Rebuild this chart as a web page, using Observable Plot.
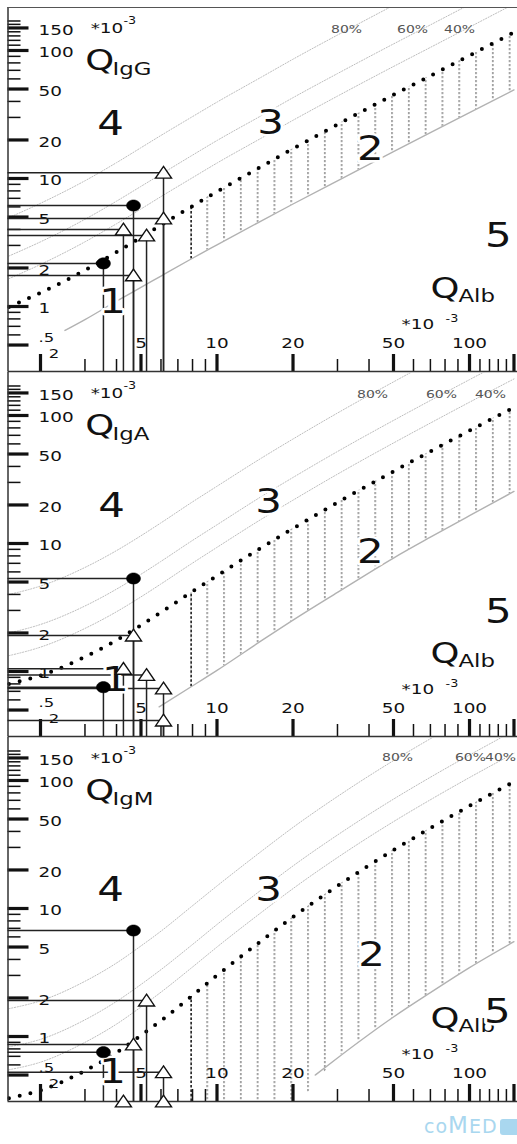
<!DOCTYPE html>
<html><head><meta charset="utf-8">
<script src="https://cdn.jsdelivr.net/npm/d3@7"></script>
<script src="https://cdn.jsdelivr.net/npm/@observablehq/plot@0.6"></script>
<style>
html,body{margin:0;padding:0;background:#fff;}
body{position:relative;width:517px;height:1144px;overflow:hidden;}
#chart svg{display:block;}
#logo{position:absolute;top:1112px;left:424px;font-family:"DejaVu Sans";color:#a9d7ef;font-size:19px;letter-spacing:1px;white-space:nowrap;}
</style></head><body>
<svg width="0" height="0" style="position:absolute"><defs>
<pattern id="hatch" patternUnits="userSpaceOnUse" x="189.5" y="0" width="16.8" height="4">
<rect x="0" y="0" width="1.8" height="2.2" fill="#a0a0a0"/></pattern>
</defs></svg>
<div id="chart"></div>
<div id="logo">co<span style="font-size:23px">M</span>ED<span style="display:inline-block;width:20px;height:16px;background:#a9d7ef;border-radius:3px;margin-left:2px;vertical-align:-2px"></span></div>
<script>
// ---------- data (values in units of 10^-3) ----------
const qAlbGrid = [1.5, 2, 3, 4, 5, 6, 7.9, 10, 15, 20, 30, 50, 70, 100, 150];

const igGUpper = [0.99, 1.28, 1.92, 2.66, 3.47, 4.33, 6.0, 7.9, 12.4, 17.1, 26.4, 45.0, 63.4, 91.4, 138.5];
const igG40 = [1.65, 2.13, 3.2, 4.43, 5.78, 7.22, 10.0, 13.2, 20.7, 28.5, 44.0, 75.0, 105.7, 152.3, 230.8];
const igG60 = [2.48, 3.2, 4.8, 6.65, 8.68, 10.8, 15.0, 19.8, 31.0, 42.8, 66.0, 112.5, 158.5, 228.5, 346];
const igG80 = [4.95, 6.4, 9.6, 13.3, 17.4, 21.7, 30.0, 39.5, 62.0, 85.5, 132, 225, 317, 457, 693];
const igGLowerX = [2.5, 3, 4, 5, 6, 7.9, 10, 15, 20, 30, 50, 70, 100, 150];
const igGLower = [0.65, 0.79, 1.10, 1.41, 1.73, 2.35, 3.03, 4.67, 6.32, 9.6, 16.2, 22.8, 32.7, 49.2];

const igAUpper = [0.80, 0.93, 1.30, 1.76, 2.30, 2.90, 4.15, 5.6, 9.3, 13.1, 20.9, 36.6, 52.4, 76.2, 115.8];
const igA40 = [1.33, 1.55, 2.17, 2.93, 3.83, 4.83, 6.92, 9.33, 15.5, 21.8, 34.8, 61.0, 87.3, 127, 193];
const igA60 = [2.0, 2.33, 3.25, 4.4, 5.75, 7.25, 10.4, 14.0, 23.3, 32.8, 52.3, 91.5, 131, 190.5, 289.5];
const igA80 = [4.0, 4.65, 6.5, 8.8, 11.5, 14.5, 20.8, 28.0, 46.5, 65.5, 104.5, 183, 262, 381, 579];
const igALowerX = [5.9, 7.9, 10, 15, 20, 30, 50, 70, 100, 150];
const igALower = [0.53, 0.76, 1.02, 1.74, 2.52, 4.15, 7.7, 11.2, 16.5, 25.5];

const igMUpper = [0.33, 0.38, 0.54, 0.75, 1.02, 1.33, 2.05, 3.0, 5.6, 8.6, 15.0, 28.6, 42.4, 63.3, 98];
const igM40 = [0.55, 0.63, 0.90, 1.25, 1.70, 2.22, 3.42, 5.0, 9.33, 14.3, 25.0, 47.7, 70.7, 105.5, 163];
const igM60 = [0.83, 0.95, 1.35, 1.88, 2.55, 3.33, 5.13, 7.5, 14.0, 21.5, 37.5, 71.5, 106, 158, 245];
const igM80 = [1.65, 1.9, 2.7, 3.75, 5.1, 6.65, 10.3, 15.0, 28.0, 43.0, 75.0, 143, 212, 316.5, 490];
const igMLowerX = [24.5, 30, 50, 70, 100, 150];
const igMLower = [0.50, 0.68, 1.42, 2.2, 3.45, 5.5];

// samples: QAlb and the three quotients (null = below the plotted range)
const sampleQAlb = [3.55, 4.26, 4.67, 4.67, 5.26, 6.14, 6.14];
const sampleMarker = ["circle", "triangle", "circle", "triangle", "triangle", "triangle", "triangle"];
const sampleIgG = [2.17, 4.0, 6.15, 1.75, 3.59, 4.87, 11.1];
const sampleIgA = [0.754, 1.05, 5.33, 1.91, 0.94, 0.737, 0.414];
const sampleIgM = [0.754, null, 6.73, 0.866, 1.91, 0.526, null];

const hatchStart = 7.9;
const xTickMajor = [2, 5, 10, 20, 50, 100, 150];
const xTickMinor = [3, 4, 6, 7, 8, 9, 30, 40, 60, 70, 80, 90, 110, 120, 130, 140];
const xTickLabels = [5, 10, 20, 50, 100];
const yTickMajor = [0.5, 1, 2, 5, 10, 20, 50, 100, 150];
const yTickMinor = [0.6, 0.7, 0.8, 0.9, 3, 4, 6, 7, 8, 9, 30, 40, 60, 70, 80, 90, 110, 120, 130, 140, 160, 170];
const panelNames = ["IgG", "IgA", "IgM"];
const percentNames = ["80%", "60%", "40%"];
const regionNames = ["4", "3", "2", "5", "1"];

// ---------- layout / style ----------
const S = 1.27;            // horizontal text stretch of the original
const FONT = "DejaVu Sans";
const xDomain = [1.487, 154.9];
const yDomain = [0.3106, 216.7];
const FRAME_W = 509.5;

const triSym = {draw(ctx) { ctx.moveTo(0, -6.3); ctx.lineTo(8, 5.4); ctx.lineTo(-8, 5.4); ctx.closePath(); }};
const ellSym = {draw(ctx) {
  const a = 7, b = 5.6, k = 0.5523;
  ctx.moveTo(a, 0);
  ctx.bezierCurveTo(a, b * k, a * k, b, 0, b);
  ctx.bezierCurveTo(-a * k, b, -a, b * k, -a, 0);
  ctx.bezierCurveTo(-a, -b * k, -a * k, -b, 0, -b);
  ctx.bezierCurveTo(a * k, -b, a, -b * k, a, 0);
  ctx.closePath();
}};

const panels = [
  {name: panelNames[0], upper: igGUpper, p40: igG40, p60: igG60, p80: igG80, lowerX: igGLowerX, lower: igGLower, samples: sampleIgG,
   pct: [[32.6, 145.9], [59.5, 145.9], [91.3, 145.9]],
   regions: [[3.79, 26.4], [16.3, 26.9], [40.5, 16.8], [130, 3.52], [3.86, 1.07]]},
  {name: panelNames[1], upper: igAUpper, p40: igA40, p60: igA60, p80: igA80, lowerX: igALowerX, lower: igALower, samples: sampleIgA,
   pct: [[41.3, 145.9], [77.4, 145.9], [121.1, 145.9]],
   regions: [[3.82, 19.5], [16.0, 20.9], [40.5, 8.5], [130, 2.89], [3.96, 0.85]]},
  {name: panelNames[2], upper: igMUpper, p40: igM40, p60: igM60, p80: igM80, lowerX: igMLowerX, lower: igMLower, samples: sampleIgM,
   pct: [[51.9, 151.3], [100.9, 151.3], [132.7, 151.3]],
   regions: [[3.79, 13.8], [16.0, 13.8], [40.9, 4.29], [129, 1.54], [3.86, 0.523]]}
];

function stretch(svg) {
  svg.querySelectorAll("text").forEach(t => {
    const xa = t.getAttribute("x");
    const X = xa && !/em$/.test(xa) ? parseFloat(xa) || 0 : 0;
    const tr = t.getAttribute("transform") || "";
    t.setAttribute("transform", `${tr} translate(${X},0) scale(${S},1) translate(${-X},0)`);
  });
}

function panel(p, {height, marginTop, marginBottom, first}) {
  const grid = qAlbGrid.map((x, i) => ({x, up: p.upper[i], p40: p.p40[i], p60: p.p60[i], p80: p.p80[i]}));
  const lower = p.lowerX.map((x, i) => ({x, y: p.lower[i]}));
  const lowerAt = new Map(lower.map(d => [d.x, d.y]));
  const hatch = grid.filter(d => d.x >= hatchStart)
    .map(d => ({x: d.x, top: d.up, bottom: lowerAt.has(d.x) ? lowerAt.get(d.x) : yDomain[0]}));
  const samples = sampleQAlb.map((x, i) => ({x, v: p.samples[i], m: sampleMarker[i]}));
  const shown = samples.filter(d => d.v != null);
  const pts = samples.map(d => ({...d, y: d.v == null ? yDomain[0] : d.v}));
  const T = (data, o) => Plot.text(data, {fontFamily: FONT, fill: "#111", ...o});
  const halo = {stroke: "white", strokeWidth: 5, paintOrder: "stroke"};

  const marks = [
    Plot.areaY(hatch, {x: "x", y1: "bottom", y2: "top", fill: "url(#hatch)", curve: "monotone-x", clip: true}),
    Plot.ruleX([hatch[0]], {x: "x", y1: "bottom", y2: "top", stroke: "#222", strokeWidth: 1.6, strokeDasharray: "2.5,2"}),
    ...["p40", "p60", "p80"].map(k => Plot.line(grid, {x: "x", y: k, curve: "monotone-x", stroke: "#bdbdbd", strokeWidth: 1, strokeDasharray: "1.2,1.6", clip: true})),
    Plot.line(lower, {x: "x", y: "y", curve: "monotone-x", stroke: "#b2b2b2", strokeWidth: 1.4, clip: true}),
    Plot.line(grid, {x: "x", y: "up", curve: "monotone-x", stroke: "#000", strokeWidth: 4, strokeLinecap: "round", strokeDasharray: "0,11", clip: true}),
    // axes
    Plot.ruleX(xTickMinor, {insetTop: 352, stroke: "#111", strokeWidth: 1.5}),
    Plot.ruleX(xTickMajor, {insetTop: 347, stroke: "#111", strokeWidth: 3.2}),
    Plot.ruleY(yTickMinor, {insetRight: FRAME_W - 13, stroke: "#111", strokeWidth: 1.5}),
    Plot.ruleY(yTickMajor, {insetRight: FRAME_W - 21, stroke: "#111", strokeWidth: 3.2}),
    Plot.ruleX([xDomain[0]], {stroke: "#333", strokeWidth: 1.5}),
    Plot.ruleY([yDomain[0]], {stroke: "#333", strokeWidth: 1.6}),
    first ? Plot.ruleY([yDomain[1]], {stroke: "#555", strokeWidth: 1.2}) : null,
    // tick labels
    T(yTickMajor.filter(v => v >= 1), {x: 1.964, y: d => d, text: d => String(d), textAnchor: "start", dy: 2, fontSize: 14.5}),
    T([0.5], {x: 1.964, y: d => d, text: () => ".5", textAnchor: "start", dy: -7, fontSize: 13}),
    T(xTickLabels, {x: d => d, y: 0.514, text: d => String(d), fontSize: 14.5}),
    T([2], {x: 2.26, y: 0.43, text: d => String(d), fontSize: 13}),
    // axis titles
    T(["*10"], {x: 3.16, y: 135.8, textAnchor: "start", lineAnchor: "bottom", fontSize: 14.5}),
    T(["-3"], {x: 4.26, y: 159.7, textAnchor: "start", lineAnchor: "bottom", fontSize: 10}),
    T(["Q"], {x: 3.01, y: 69.8, textAnchor: "start", lineAnchor: "bottom", fontSize: 29}),
    T([p.name], {x: 3.86, y: 63.8, textAnchor: "start", lineAnchor: "bottom", fontSize: 18}),
    T(["Q"], {x: 70.1, y: 1.155, textAnchor: "start", lineAnchor: "bottom", fontSize: 29}),
    T(["Alb"], {x: 90.4, y: 1.075, textAnchor: "start", lineAnchor: "bottom", fontSize: 18}),
    T(["*10"], {x: 53.8, y: 0.673, textAnchor: "start", lineAnchor: "bottom", fontSize: 14.5}),
    T(["-3"], {x: 80.4, y: 0.75, textAnchor: "start", lineAnchor: "bottom", fontSize: 10}),
    // percentage labels
    T(p.pct, {x: d => d[0], y: d => d[1], text: (d, i) => percentNames[i], fontSize: 11, fill: "#555"}),
    // sample guide lines
    Plot.ruleY(shown, {y: "v", x1: xDomain[0], x2: "x", stroke: "#222", strokeWidth: 1.5}),
    Plot.ruleX(shown, {x: "x", y1: yDomain[0], y2: "v", stroke: "#222", strokeWidth: 1.5}),
    // region labels
    T(p.regions, {x: d => d[0], y: d => d[1], text: (d, i) => regionNames[i], fontSize: 33, ...halo}),
    // markers
    Plot.dot(pts.filter(d => d.m === "triangle"), {x: "x", y: "y", symbol: triSym, fill: "white", stroke: "#111", strokeWidth: 1.4}),
    Plot.dot(pts.filter(d => d.m === "circle"), {x: "x", y: "y", symbol: ellSym, fill: "#000", stroke: "#000", strokeWidth: 0.5})
  ].filter(Boolean);

  const svg = Plot.plot({
    width: 517, height, marginLeft: 7.5, marginRight: 0, marginTop, marginBottom,
    x: {type: "log", domain: xDomain, axis: null},
    y: {type: "log", domain: yDomain, axis: null},
    style: {background: "transparent", overflow: "visible", fontFamily: FONT},
    marks
  });
  stretch(svg);
  return svg;
}

const chart = document.getElementById("chart");
chart.appendChild(panel(panels[0], {height: 372, marginTop: 7, marginBottom: 1, first: true}));
chart.appendChild(panel(panels[1], {height: 365, marginTop: 0, marginBottom: 1, first: false}));
chart.appendChild(panel(panels[2], {height: 377, marginTop: 0, marginBottom: 13, first: false}));
</script>
</body></html>
